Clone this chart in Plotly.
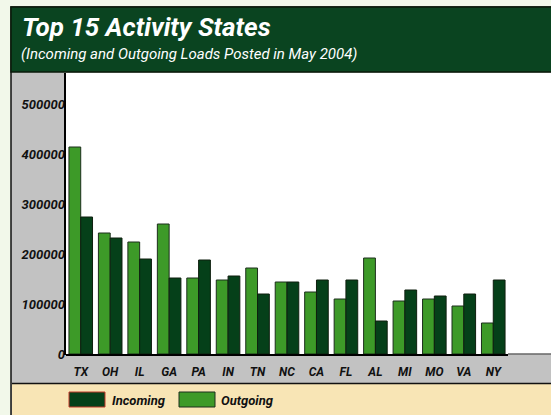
import plotly.graph_objects as go

# ---- data ----
states = ["TX", "OH", "IL", "GA", "PA", "IN", "TN", "NC", "CA", "FL", "AL", "MI", "MO", "VA", "NY"]
outgoing = [414000, 242000, 224000, 260000, 152000, 148000, 172000, 144000, 124000, 110000, 192000, 106000, 110000, 96000, 62000]
incoming = [274000, 232000, 190000, 152000, 188000, 156000, 120000, 144000, 148000, 148000, 66000, 128000, 116000, 120000, 148000]
y_ticks = [0, 100000, 200000, 300000, 400000, 500000]

title = "Top 15 Activity States"
subtitle = "(Incoming and Outgoing Loads Posted in May 2004)"

# ---- style ----
W, H = 551, 415
FONT = "Roboto, Liberation Sans, sans-serif"
C_OUT = "#3d9a28"
C_IN = "#054019"
C_HEADER = "#0a4420"
C_GRAY = "#c2c2c2"
C_TAN = "#f8e5b5"
C_BG = "#f2f8ea"


def px(x):
    return x / W


def py(y):
    return 1 - y / H


fig = go.Figure()
fig.add_trace(go.Bar(x=states, y=outgoing, name="Outgoing",
                     marker=dict(color=C_OUT, line=dict(color="#1c2e1c", width=1))))
fig.add_trace(go.Bar(x=states, y=incoming, name="Incoming",
                     marker=dict(color=C_IN, line=dict(color="#0f1f0f", width=1))))

shapes = []
shapes.append(dict(type="rect", xref="paper", yref="paper", x0=px(11), x1=px(552), y0=py(416), y1=py(7),
                   fillcolor=C_GRAY, line=dict(color="#111", width=1.5), layer="below"))
shapes.append(dict(type="rect", xref="paper", yref="paper", x0=px(11), x1=px(552), y0=py(72), y1=py(7),
                   fillcolor=C_HEADER, line=dict(color="#0a1a0a", width=1.5), layer="below"))
shapes.append(dict(type="rect", xref="paper", yref="paper", x0=px(66), x1=px(552), y0=py(354), y1=py(73),
                   fillcolor="white", line=dict(width=0), layer="below"))
shapes.append(dict(type="line", xref="paper", yref="paper", x0=px(65), x1=px(65), y0=py(355), y1=py(73),
                   line=dict(color="#000", width=2)))
shapes.append(dict(type="line", xref="paper", yref="paper", x0=px(508), x1=px(552), y0=py(354), y1=py(354),
                   line=dict(color="#666", width=1.5)))
shapes.append(dict(type="rect", xref="paper", yref="paper", x0=px(12), x1=px(552), y0=py(416), y1=py(384),
                   fillcolor=C_TAN, line=dict(width=0), layer="below"))
shapes.append(dict(type="line", xref="paper", yref="paper", x0=px(12), x1=px(552), y0=py(383.5), y1=py(383.5),
                   line=dict(color="#111", width=1.5)))
shapes.append(dict(type="rect", xref="paper", yref="paper", x0=px(69), x1=px(105), y0=py(407), y1=py(392),
                   fillcolor=C_IN, line=dict(color="#c0392b", width=1)))
shapes.append(dict(type="rect", xref="paper", yref="paper", x0=px(179), x1=px(215), y0=py(407), y1=py(392),
                   fillcolor=C_OUT, line=dict(color="#1c2e1c", width=1)))

annotations = [
    dict(text="<b><i>" + title + "</i></b>", xref="paper", yref="paper", x=px(20), y=py(27),
         xanchor="left", yanchor="middle", showarrow=False, font=dict(family=FONT, size=26, color="white")),
    dict(text="<i>" + subtitle + "</i>", xref="paper", yref="paper", x=px(19), y=py(54),
         xanchor="left", yanchor="middle", showarrow=False, font=dict(family=FONT, size=15, color="white")),
    dict(text="<b><i>Incoming</i></b>", xref="paper", yref="paper", x=px(110), y=py(400),
         xanchor="left", yanchor="middle", showarrow=False, font=dict(family=FONT, size=13, color="#111")),
    dict(text="<b><i>Outgoing</i></b>", xref="paper", yref="paper", x=px(219), y=py(400),
         xanchor="left", yanchor="middle", showarrow=False, font=dict(family=FONT, size=13, color="#111")),
]

y_top = 500000 * (354 - 73) / (354 - 104)

fig.update_layout(
    template="none",
    width=W, height=H,
    margin=dict(l=0, r=0, t=0, b=0, pad=0, autoexpand=False),
    paper_bgcolor=C_BG,
    plot_bgcolor="white",
    barmode="group",
    bargap=0.2,
    bargroupgap=0.0,
    showlegend=False,
    shapes=shapes,
    annotations=annotations,
    xaxis=dict(domain=[px(66), px(508)], range=[-0.5, 14.5], showline=True, linecolor="#000", linewidth=2,
               ticks="", showgrid=False, zeroline=False, automargin=False, ticklabelstandoff=6,
               tickfont=dict(family=FONT, size=12, color="#111"),
               tickprefix="<b><i>", ticksuffix="</i></b>"),
    yaxis=dict(domain=[py(354), py(73)], range=[0, y_top], tickvals=y_ticks,
               ticktext=["<b><i>%d</i></b>" % v for v in y_ticks],
               showgrid=False, zeroline=False, showline=False, ticks="", automargin=False,
               tickfont=dict(family=FONT, size=13, color="#111")),
)

post = """
document.body.style.margin = '0';
document.body.style.padding = '0';
"""

fig.write_html("out.html", post_script=post, config={"displayModeBar": False})
